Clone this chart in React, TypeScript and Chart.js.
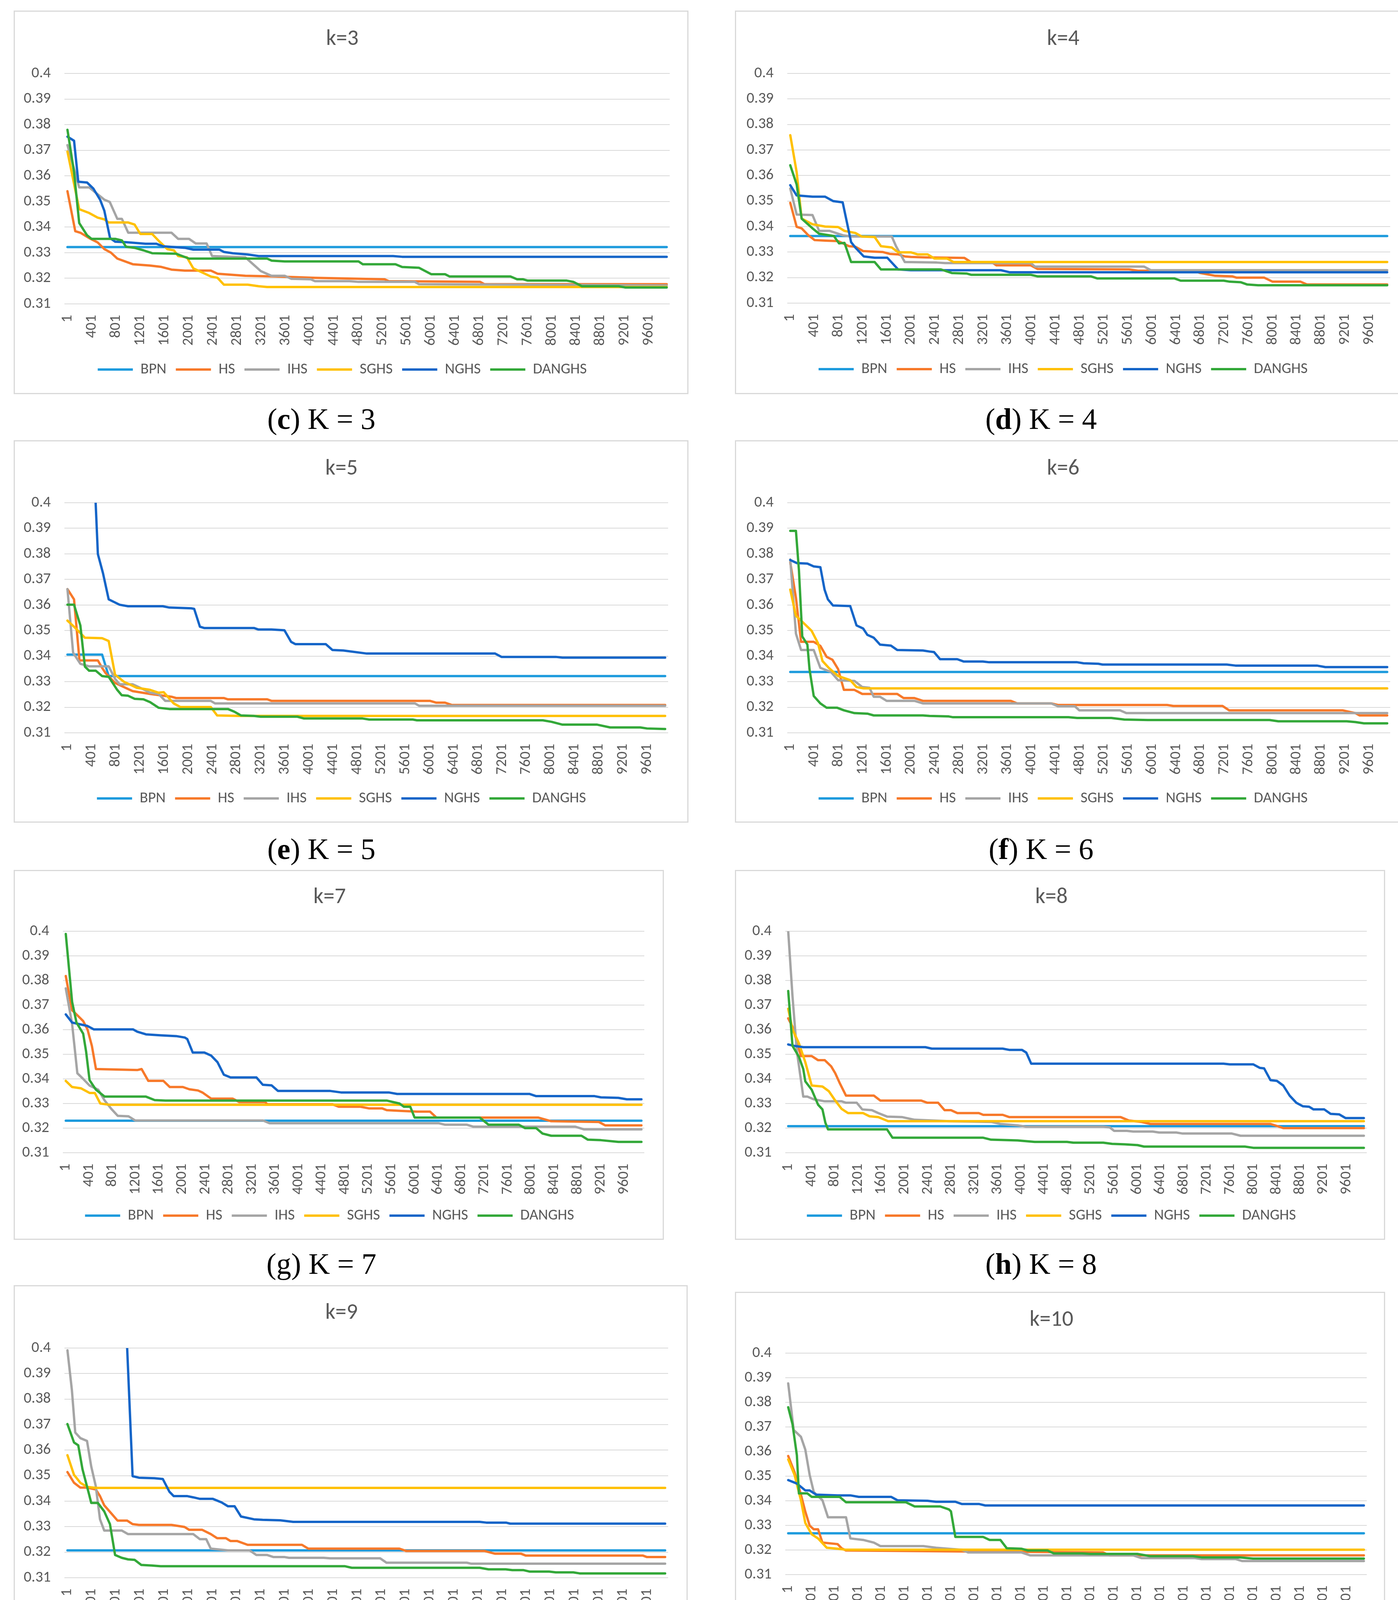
import React, { useEffect, useRef } from "react";
import { Chart, registerables, ChartConfiguration } from "chart.js";

Chart.register(...registerables);

type Pt = [number, number];

// shared series info
const seriesNames = ["BPN", "HS", "IHS", "SGHS", "NGHS", "DANGHS"];
const seriesColors = ["#1E9BDD", "#F7792A", "#A5A5A5", "#FFC000", "#1565C8", "#33A839"];

// iteration tick labels and error ticks
const xTickValues = [
  1, 401, 801, 1201, 1601, 2001, 2401, 2801, 3201, 3601, 4001, 4401, 4801,
  5201, 5601, 6001, 6401, 6801, 7201, 7601, 8001, 8401, 8801, 9201, 9601,
];
const yTickValues = [0.31, 0.32, 0.33, 0.34, 0.35, 0.36, 0.37, 0.38, 0.39, 0.4];

// ---------- k = 3 ----------
const k3_BPN: Pt[] = [[1, 0.3322], [9901, 0.3322]];
const k3_HS: Pt[] = [[1, 0.354], [130, 0.3384], [215, 0.3378], [360, 0.3357], [500, 0.334], [610, 0.3314], [720, 0.33], [825, 0.3277], [1080, 0.3255], [1360, 0.325], [1540, 0.3245], [1720, 0.3234], [1940, 0.323], [2370, 0.323], [2480, 0.3218], [2940, 0.321], [3440, 0.3207], [4090, 0.3202], [5240, 0.3196], [5310, 0.3189], [6820, 0.3186], [6890, 0.3177], [9901, 0.3177]];
const k3_IHS: Pt[] = [[1, 0.372], [195, 0.3555], [360, 0.3555], [500, 0.3528], [610, 0.3507], [700, 0.3498], [825, 0.3432], [900, 0.3432], [1005, 0.3378], [1720, 0.3378], [1830, 0.3354], [2010, 0.3354], [2120, 0.3336], [2300, 0.3336], [2390, 0.3287], [2940, 0.3282], [3195, 0.3228], [3370, 0.321], [3590, 0.321], [3700, 0.3198], [4020, 0.3196], [4090, 0.3189], [4660, 0.3189], [4810, 0.3186], [5740, 0.3186], [5810, 0.3177], [9901, 0.3172]];
const k3_SGHS: Pt[] = [[1, 0.3695], [195, 0.347], [360, 0.3455], [500, 0.3437], [610, 0.343], [680, 0.3418], [1005, 0.3418], [1110, 0.341], [1205, 0.3373], [1400, 0.3373], [1510, 0.3346], [1650, 0.3314], [1760, 0.3309], [1830, 0.3287], [1975, 0.3282], [2080, 0.3239], [2225, 0.3223], [2370, 0.3207], [2480, 0.3202], [2585, 0.3175], [2980, 0.3175], [3160, 0.3169], [3300, 0.3166], [9901, 0.3166]];
const k3_NGHS: Pt[] = [[1, 0.3753], [110, 0.3737], [180, 0.3577], [325, 0.3574], [430, 0.355], [540, 0.3507], [610, 0.3464], [705, 0.3357], [790, 0.3343], [970, 0.3341], [1290, 0.3335], [1470, 0.3335], [1580, 0.3325], [1940, 0.3319], [2080, 0.3312], [2510, 0.3312], [2585, 0.3303], [2730, 0.3298], [2980, 0.3293], [3160, 0.3287], [5380, 0.3287], [5530, 0.3284], [9901, 0.3284]];
const k3_DANGHS: Pt[] = [[1, 0.378], [110, 0.3614], [195, 0.3416], [325, 0.3368], [400, 0.3354], [790, 0.3354], [900, 0.3348], [970, 0.3323], [1110, 0.3319], [1260, 0.3309], [1400, 0.3298], [1795, 0.3296], [2010, 0.3277], [3300, 0.3277], [3375, 0.3269], [3590, 0.3266], [4810, 0.3266], [4880, 0.3255], [5420, 0.3255], [5530, 0.3244], [5810, 0.3241], [6010, 0.3216], [6240, 0.3216], [6315, 0.3207], [7320, 0.3207], [7430, 0.3196], [7530, 0.3196], [7605, 0.3191], [8250, 0.3191], [8360, 0.3186], [8500, 0.3169], [9110, 0.3169], [9220, 0.3164], [9901, 0.3164]];

// ---------- k = 4 ----------
const k4_BPN: Pt[] = [[1, 0.3363], [9901, 0.3363]];
const k4_HS: Pt[] = [[1, 0.3493], [107, 0.3399], [190, 0.3393], [300, 0.3366], [405, 0.3347], [580, 0.3345], [795, 0.3343], [975, 0.3323], [1080, 0.3321], [1208, 0.3304], [1365, 0.3302], [1540, 0.33], [1650, 0.3293], [1790, 0.3291], [1900, 0.3283], [2000, 0.3281], [2250, 0.3279], [2890, 0.3277], [2996, 0.3261], [3350, 0.3259], [3420, 0.3248], [3990, 0.3248], [4100, 0.3234], [5620, 0.3232], [5770, 0.3227], [6690, 0.3227], [6800, 0.3218], [7050, 0.3207], [7330, 0.3205], [7400, 0.32], [7860, 0.32], [8000, 0.3184], [8465, 0.3184], [8570, 0.3173], [9901, 0.3173]];
const k4_IHS: Pt[] = [[1, 0.3549], [107, 0.3447], [370, 0.3445], [480, 0.3383], [655, 0.3383], [870, 0.3366], [1010, 0.3361], [1685, 0.3361], [1755, 0.3323], [1900, 0.3261], [2430, 0.3259], [2570, 0.3257], [3990, 0.3257], [4060, 0.3243], [5870, 0.3243], [5980, 0.3229], [9901, 0.3229]];
const k4_SGHS: Pt[] = [[1, 0.3758], [107, 0.3613], [190, 0.3431], [370, 0.3409], [580, 0.34], [795, 0.3398], [900, 0.3383], [1080, 0.3375], [1185, 0.3361], [1400, 0.3359], [1505, 0.3323], [1685, 0.3318], [1790, 0.3299], [2000, 0.3299], [2110, 0.3291], [2280, 0.3291], [2390, 0.3275], [2600, 0.3275], [2710, 0.3261], [9901, 0.3261]];
const k4_NGHS: Pt[] = [[1, 0.3562], [107, 0.3522], [370, 0.3517], [580, 0.3517], [710, 0.35], [870, 0.3495], [1010, 0.3339], [1080, 0.3318], [1220, 0.3283], [1400, 0.3278], [1610, 0.3278], [1790, 0.3232], [2000, 0.3229], [3495, 0.3229], [3635, 0.3221], [9901, 0.3221]];
const k4_DANGHS: Pt[] = [[1, 0.364], [107, 0.3565], [190, 0.3431], [370, 0.3393], [480, 0.3372], [725, 0.3363], [810, 0.3334], [900, 0.3336], [1010, 0.3261], [1400, 0.3261], [1505, 0.3232], [2500, 0.3232], [2680, 0.3218], [2925, 0.3216], [3000, 0.3211], [3990, 0.3211], [4100, 0.3205], [4985, 0.3205], [5090, 0.3197], [6370, 0.3197], [6475, 0.3188], [7190, 0.3188], [7290, 0.3184], [7470, 0.3182], [7580, 0.3173], [7760, 0.317], [9901, 0.317]];

// ---------- k = 5 ----------
const k5_BPN: Pt[] = [[1, 0.3406], [575, 0.3406], [684, 0.3322], [9901, 0.3322]];
const k5_HS: Pt[] = [[1, 0.3662], [110, 0.3622], [200, 0.3383], [505, 0.3383], [575, 0.3354], [635, 0.3333], [790, 0.3295], [1080, 0.3263], [1370, 0.3252], [1725, 0.3241], [1800, 0.3236], [2590, 0.3236], [2660, 0.3231], [3310, 0.3231], [3380, 0.3225], [6005, 0.3225], [6110, 0.3218], [6255, 0.3218], [6365, 0.3209], [9901, 0.3209]];
const k5_IHS: Pt[] = [[1, 0.3662], [95, 0.3413], [215, 0.337], [360, 0.336], [684, 0.336], [790, 0.3311], [865, 0.329], [1080, 0.329], [1225, 0.3274], [1370, 0.3257], [1510, 0.3252], [1620, 0.3225], [2375, 0.3225], [2445, 0.3215], [5755, 0.3215], [5825, 0.3206], [9901, 0.3206]];
const k5_SGHS: Pt[] = [[1, 0.3539], [110, 0.3515], [290, 0.3472], [575, 0.347], [684, 0.3459], [790, 0.3327], [935, 0.33], [1150, 0.3276], [1370, 0.3268], [1510, 0.3257], [1595, 0.3259], [1760, 0.3215], [1870, 0.3201], [2375, 0.3201], [2480, 0.3168], [2840, 0.3166], [9901, 0.3166]];
const k5_NGHS: Pt[] = [[1, 0.45], [468, 0.4], [505, 0.3799], [590, 0.3724], [684, 0.3622], [865, 0.3601], [1005, 0.3595], [1580, 0.3595], [1690, 0.359], [2050, 0.3587], [2100, 0.3585], [2195, 0.3515], [2265, 0.351], [3090, 0.351], [3165, 0.3504], [3380, 0.3504], [3595, 0.3501], [3705, 0.3456], [3775, 0.3447], [4280, 0.3447], [4390, 0.3424], [4570, 0.3422], [4960, 0.341], [7085, 0.341], [7190, 0.3397], [8090, 0.3397], [8200, 0.3394], [9901, 0.3394]];
const k5_DANGHS: Pt[] = [[1, 0.3601], [110, 0.3601], [215, 0.352], [290, 0.3359], [360, 0.3343], [470, 0.3343], [575, 0.3322], [684, 0.3319], [825, 0.3268], [900, 0.3247], [1005, 0.3245], [1115, 0.3233], [1260, 0.3231], [1370, 0.322], [1510, 0.3198], [1690, 0.3193], [2660, 0.3193], [2770, 0.3182], [2875, 0.3168], [3090, 0.3166], [3200, 0.3163], [3810, 0.3163], [3920, 0.3156], [4890, 0.3156], [5000, 0.3152], [5720, 0.3152], [5790, 0.3149], [7875, 0.3149], [8020, 0.3143], [8200, 0.3132], [8775, 0.3132], [8990, 0.3121], [9490, 0.3121], [9600, 0.3117], [9901, 0.3115]];

// ---------- k = 6 ----------
const k6_BPN: Pt[] = [[1, 0.3338], [9901, 0.3338]];
const k6_HS: Pt[] = [[1, 0.3767], [95, 0.3628], [180, 0.3456], [390, 0.3456], [500, 0.344], [605, 0.3397], [700, 0.3386], [795, 0.3349], [890, 0.3268], [1065, 0.3268], [1195, 0.3252], [1775, 0.3252], [1880, 0.3236], [2060, 0.3236], [2200, 0.3225], [3660, 0.3225], [3765, 0.3215], [4330, 0.3215], [4440, 0.3209], [6250, 0.3209], [6355, 0.3205], [7170, 0.3205], [7280, 0.3188], [9160, 0.3188], [9375, 0.3177], [9445, 0.3168], [9901, 0.3168]];
const k6_IHS: Pt[] = [[1, 0.3778], [95, 0.3488], [180, 0.3424], [390, 0.3424], [500, 0.3354], [675, 0.3338], [795, 0.3306], [1065, 0.3303], [1195, 0.3279], [1315, 0.3276], [1385, 0.3241], [1490, 0.3241], [1600, 0.3225], [2060, 0.3225], [2200, 0.3215], [4330, 0.3215], [4440, 0.3204], [4720, 0.3204], [4795, 0.3188], [5470, 0.3188], [5575, 0.3177], [9901, 0.3177]];
const k6_SGHS: Pt[] = [[1, 0.366], [95, 0.3558], [215, 0.3531], [355, 0.3499], [460, 0.3451], [535, 0.3381], [640, 0.3354], [795, 0.3322], [995, 0.3306], [1100, 0.3279], [1210, 0.3274], [9901, 0.3274]];
const k6_NGHS: Pt[] = [[1, 0.3776], [110, 0.3764], [285, 0.3762], [390, 0.3751], [500, 0.3748], [570, 0.366], [625, 0.3622], [710, 0.3598], [995, 0.3596], [1100, 0.352], [1210, 0.3508], [1280, 0.3483], [1385, 0.3472], [1490, 0.3445], [1670, 0.3441], [1775, 0.3424], [2200, 0.3422], [2310, 0.3418], [2385, 0.3416], [2485, 0.3388], [2770, 0.3388], [2875, 0.3379], [3195, 0.3379], [3300, 0.3376], [4760, 0.3376], [4865, 0.3372], [5110, 0.337], [5180, 0.3367], [7240, 0.3367], [7385, 0.3363], [8735, 0.3363], [8875, 0.3357], [9901, 0.3357]];
const k6_DANGHS: Pt[] = [[1, 0.389], [95, 0.389], [145, 0.3735], [200, 0.3477], [285, 0.3445], [320, 0.3349], [390, 0.3244], [500, 0.3215], [605, 0.3198], [780, 0.3198], [890, 0.3188], [1065, 0.3177], [1280, 0.3175], [1385, 0.3168], [2200, 0.3168], [2310, 0.3166], [2630, 0.3164], [2700, 0.3161], [4615, 0.3161], [4760, 0.3158], [5325, 0.3158], [5540, 0.3152], [5930, 0.315], [7950, 0.315], [8095, 0.3145], [9230, 0.3145], [9375, 0.3142], [9515, 0.3137], [9901, 0.3137]];

// ---------- k = 7 ----------
const k7_BPN: Pt[] = [[1, 0.323], [9901, 0.323]];
const k7_HS: Pt[] = [[1, 0.3818], [110, 0.3679], [185, 0.3662], [300, 0.3635], [375, 0.3601], [450, 0.3534], [520, 0.344], [1230, 0.3436], [1305, 0.344], [1420, 0.3392], [1680, 0.3392], [1790, 0.3367], [2015, 0.3367], [2125, 0.3358], [2275, 0.3353], [2350, 0.3345], [2500, 0.332], [2870, 0.332], [2985, 0.3306], [3430, 0.3306], [3465, 0.3297], [4585, 0.3297], [4695, 0.3287], [5070, 0.3287], [5220, 0.328], [5445, 0.328], [5520, 0.3273], [5780, 0.327], [6040, 0.3267], [6265, 0.3267], [6375, 0.3243], [8125, 0.3243], [8350, 0.3228], [9170, 0.3225], [9280, 0.3211], [9901, 0.3211]];
const k7_IHS: Pt[] = [[1, 0.3768], [110, 0.3623], [200, 0.3423], [300, 0.34], [410, 0.3373], [560, 0.3356], [670, 0.3312], [785, 0.3278], [895, 0.325], [1080, 0.3248], [1195, 0.3231], [3395, 0.3231], [3505, 0.322], [6410, 0.322], [6520, 0.3214], [6895, 0.3214], [7005, 0.3206], [8760, 0.3206], [8910, 0.3195], [9901, 0.3195]];
const k7_SGHS: Pt[] = [[1, 0.3392], [110, 0.3367], [260, 0.3362], [410, 0.3343], [500, 0.3343], [595, 0.33], [745, 0.3295], [9901, 0.3295]];
const k7_NGHS: Pt[] = [[1, 0.3662], [110, 0.3629], [225, 0.3623], [375, 0.3615], [485, 0.3601], [1160, 0.3601], [1230, 0.3592], [1380, 0.3581], [1640, 0.3577], [1900, 0.3574], [2050, 0.3568], [2090, 0.3562], [2185, 0.3507], [2385, 0.3507], [2500, 0.3495], [2610, 0.3468], [2720, 0.3417], [2835, 0.3406], [3280, 0.3406], [3390, 0.3376], [3540, 0.3374], [3650, 0.3351], [4550, 0.3351], [4735, 0.3345], [5555, 0.3345], [5700, 0.3339], [7975, 0.3339], [8090, 0.333], [9095, 0.333], [9205, 0.3325], [9505, 0.3323], [9650, 0.3317], [9901, 0.3317]];
const k7_DANGHS: Pt[] = [[1, 0.3989], [110, 0.3713], [185, 0.3629], [300, 0.3584], [350, 0.3512], [410, 0.3395], [520, 0.3356], [670, 0.3328], [1380, 0.3328], [1530, 0.3314], [1715, 0.3312], [5520, 0.3312], [5630, 0.3306], [5740, 0.33], [5815, 0.3287], [5925, 0.3287], [6000, 0.3243], [7120, 0.3243], [7270, 0.3214], [7790, 0.3214], [7900, 0.32], [8090, 0.32], [8200, 0.3178], [8350, 0.3169], [8870, 0.3169], [8980, 0.3153], [9205, 0.3151], [9505, 0.3144], [9901, 0.3144]];

// ---------- k = 8 ----------
const k8_BPN: Pt[] = [[1, 0.3208], [9901, 0.3208]];
const k8_HS: Pt[] = [[1, 0.3646], [75, 0.3612], [220, 0.3493], [405, 0.3493], [515, 0.3476], [630, 0.3476], [740, 0.3451], [810, 0.3423], [885, 0.3384], [995, 0.3332], [1475, 0.3332], [1585, 0.3312], [2285, 0.3312], [2395, 0.3303], [2580, 0.3303], [2690, 0.3273], [2800, 0.3273], [2910, 0.3261], [3280, 0.3261], [3355, 0.3254], [3690, 0.3254], [3800, 0.3245], [5715, 0.3245], [5860, 0.3231], [6080, 0.3225], [6230, 0.3217], [8295, 0.3217], [8440, 0.3206], [8515, 0.32], [9901, 0.32]];
const k8_IHS: Pt[] = [[1, 0.4], [75, 0.3735], [150, 0.3512], [260, 0.3328], [330, 0.3328], [440, 0.3317], [630, 0.3309], [920, 0.3309], [995, 0.3303], [1180, 0.3303], [1275, 0.3276], [1440, 0.3273], [1550, 0.3261], [1700, 0.3247], [1955, 0.3245], [2175, 0.3234], [2765, 0.3228], [3500, 0.3225], [3650, 0.3217], [3945, 0.3211], [4090, 0.3206], [5420, 0.3206], [5530, 0.3203], [5605, 0.3189], [5825, 0.3189], [5935, 0.3186], [6270, 0.3186], [6380, 0.3182], [6675, 0.3182], [6785, 0.3178], [7630, 0.3178], [7780, 0.3169], [9901, 0.3169]];
const k8_SGHS: Pt[] = [[1, 0.3685], [75, 0.3601], [185, 0.3545], [295, 0.3468], [405, 0.3373], [590, 0.3369], [700, 0.335], [810, 0.3312], [920, 0.3278], [1030, 0.3261], [1290, 0.3261], [1400, 0.3248], [1550, 0.3245], [1720, 0.3228], [9901, 0.3228]];
const k8_NGHS: Pt[] = [[1, 0.354], [110, 0.3534], [260, 0.3529], [2360, 0.3529], [2470, 0.3523], [3690, 0.3523], [3800, 0.3518], [4020, 0.3518], [4095, 0.3507], [4180, 0.3462], [7485, 0.3462], [7595, 0.3459], [8000, 0.3459], [8110, 0.3445], [8185, 0.3443], [8295, 0.3395], [8405, 0.3392], [8515, 0.3373], [8625, 0.3332], [8740, 0.3303], [8850, 0.3289], [8960, 0.3287], [9035, 0.3276], [9220, 0.3276], [9330, 0.3258], [9475, 0.3256], [9585, 0.3241], [9901, 0.3241]];
const k8_DANGHS: Pt[] = [[1, 0.3757], [75, 0.3534], [185, 0.349], [260, 0.344], [295, 0.339], [405, 0.3356], [515, 0.3295], [590, 0.3276], [640, 0.3222], [685, 0.3195], [1700, 0.3195], [1795, 0.3161], [3355, 0.3161], [3490, 0.3153], [3945, 0.315], [4240, 0.3144], [4795, 0.3144], [4905, 0.3141], [5420, 0.3141], [5570, 0.3136], [5790, 0.3134], [6010, 0.3131], [6120, 0.3125], [7855, 0.3125], [8000, 0.312], [9901, 0.312]];

// ---------- k = 9 ----------
const k9_BPN: Pt[] = [[1, 0.3207], [9901, 0.3207]];
const k9_HS: Pt[] = [[1, 0.3514], [110, 0.3472], [215, 0.3453], [325, 0.3453], [470, 0.3446], [540, 0.342], [610, 0.3384], [720, 0.3354], [830, 0.3324], [990, 0.3324], [1080, 0.331], [1185, 0.3307], [1725, 0.3307], [1940, 0.3299], [2015, 0.3288], [2230, 0.3288], [2375, 0.3271], [2480, 0.3255], [2625, 0.3255], [2700, 0.3244], [2810, 0.3244], [2985, 0.3229], [3885, 0.3229], [3990, 0.3214], [5500, 0.3214], [5610, 0.3205], [6905, 0.3205], [7085, 0.3194], [7515, 0.3194], [7590, 0.3187], [9530, 0.3187], [9600, 0.3181], [9901, 0.3181]];
const k9_IHS: Pt[] = [[1, 0.3991], [75, 0.3834], [130, 0.3669], [215, 0.3647], [325, 0.3636], [395, 0.3536], [470, 0.3459], [540, 0.3329], [610, 0.3285], [900, 0.3285], [1005, 0.3271], [2085, 0.3271], [2195, 0.3251], [2300, 0.3251], [2375, 0.3214], [2660, 0.3207], [3020, 0.3207], [3130, 0.3189], [3310, 0.3189], [3415, 0.3181], [3600, 0.3181], [3670, 0.3178], [4245, 0.3178], [4350, 0.3176], [5180, 0.3176], [5285, 0.3159], [6615, 0.3159], [6690, 0.3155], [9901, 0.3155]];
const k9_SGHS: Pt[] = [[1, 0.358], [110, 0.3503], [215, 0.3472], [325, 0.3456], [470, 0.3452], [9901, 0.3452]];
const k9_NGHS: Pt[] = [[1, 0.45], [990, 0.4], [1080, 0.3498], [1185, 0.3492], [1440, 0.349], [1580, 0.3487], [1690, 0.3437], [1760, 0.342], [1980, 0.342], [2085, 0.3415], [2195, 0.3409], [2410, 0.3409], [2555, 0.3395], [2660, 0.338], [2770, 0.338], [2875, 0.334], [3090, 0.3329], [3235, 0.3327], [3525, 0.3325], [3740, 0.3319], [6830, 0.3319], [6940, 0.3316], [7265, 0.3316], [7335, 0.3312], [9901, 0.3312]];
const k9_DANGHS: Pt[] = [[1, 0.3702], [110, 0.363], [180, 0.3619], [250, 0.3525], [360, 0.3426], [395, 0.3393], [505, 0.3393], [610, 0.336], [705, 0.331], [790, 0.3189], [900, 0.3178], [1005, 0.3172], [1115, 0.317], [1225, 0.315], [1400, 0.3148], [1545, 0.3145], [4600, 0.3145], [4710, 0.3139], [6830, 0.3139], [6975, 0.3133], [7260, 0.3133], [7370, 0.313], [7550, 0.313], [7660, 0.3124], [7980, 0.3124], [8090, 0.3121], [8380, 0.3121], [8485, 0.3117], [9901, 0.3117]];

// ---------- k = 10 ----------
const k10_BPN: Pt[] = [[1, 0.3268], [9901, 0.3268]];
const k10_HS: Pt[] = [[1, 0.3582], [110, 0.3516], [220, 0.3425], [295, 0.3356], [370, 0.3299], [440, 0.3284], [515, 0.3284], [590, 0.323], [850, 0.3224], [920, 0.3207], [995, 0.3198], [2025, 0.3196], [2985, 0.3194], [5415, 0.319], [5530, 0.3178], [9901, 0.3178]];
const k10_IHS: Pt[] = [[1, 0.3877], [95, 0.3688], [220, 0.366], [295, 0.3608], [370, 0.3505], [440, 0.3436], [590, 0.3402], [685, 0.3333], [995, 0.3333], [1070, 0.3247], [1290, 0.3241], [1475, 0.323], [1585, 0.3216], [2325, 0.3216], [2545, 0.3209], [2985, 0.3201], [3095, 0.319], [4015, 0.319], [4165, 0.3178], [5935, 0.3178], [6080, 0.3167], [7000, 0.3167], [7110, 0.3163], [7700, 0.3163], [7810, 0.3155], [9901, 0.3155]];
const k10_SGHS: Pt[] = [[1, 0.3568], [110, 0.3505], [220, 0.3402], [295, 0.331], [405, 0.3264], [515, 0.3247], [665, 0.3209], [850, 0.3205], [995, 0.3201], [9901, 0.3201]];
const k10_NGHS: Pt[] = [[1, 0.3484], [150, 0.347], [295, 0.3442], [370, 0.3442], [480, 0.3425], [850, 0.3422], [1070, 0.3422], [1215, 0.3416], [1770, 0.3416], [1880, 0.3402], [2395, 0.34], [2545, 0.3396], [2875, 0.3396], [2985, 0.3387], [3280, 0.3387], [3390, 0.3381], [9901, 0.3381]];
const k10_DANGHS: Pt[] = [[1, 0.378], [75, 0.3711], [150, 0.3585], [185, 0.343], [330, 0.343], [405, 0.3416], [885, 0.3416], [995, 0.3394], [2025, 0.3394], [2175, 0.3377], [2615, 0.3377], [2765, 0.3365], [2800, 0.3357], [2875, 0.3253], [3355, 0.3253], [3465, 0.3241], [3650, 0.3241], [3760, 0.3207], [4015, 0.3205], [4125, 0.3198], [4460, 0.3198], [4570, 0.3186], [5050, 0.3186], [5195, 0.3184], [6005, 0.3184], [6225, 0.3175], [6960, 0.3175], [7110, 0.317], [7775, 0.317], [7995, 0.3165], [9901, 0.3165]];

const seriesByK: Record<number, Pt[][]> = {
  3: [k3_BPN, k3_HS, k3_IHS, k3_SGHS, k3_NGHS, k3_DANGHS],
  4: [k4_BPN, k4_HS, k4_IHS, k4_SGHS, k4_NGHS, k4_DANGHS],
  5: [k5_BPN, k5_HS, k5_IHS, k5_SGHS, k5_NGHS, k5_DANGHS],
  6: [k6_BPN, k6_HS, k6_IHS, k6_SGHS, k6_NGHS, k6_DANGHS],
  7: [k7_BPN, k7_HS, k7_IHS, k7_SGHS, k7_NGHS, k7_DANGHS],
  8: [k8_BPN, k8_HS, k8_IHS, k8_SGHS, k8_NGHS, k8_DANGHS],
  9: [k9_BPN, k9_HS, k9_IHS, k9_SGHS, k9_NGHS, k9_DANGHS],
  10: [k10_BPN, k10_HS, k10_IHS, k10_SGHS, k10_NGHS, k10_DANGHS],
};

// page layout (pixels)
type Panel = {
  id: string; k: number; bold: boolean;
  left: number; top: number; width: number; height: number;
  plot: [number, number, number, number]; // left, right, top, bottom
  titleY: number; legendY: number; capX: number; capY: number;
};

const panels: Panel[] = [
  { id: "c", k: 3, bold: true, left: 35, top: 27, width: 1728, height: 982, plot: [165, 1715, 188, 778], titleY: 101, legendY: 946, capX: 823, capY: 1072 },
  { id: "d", k: 4, bold: true, left: 1882, top: 27, width: 1728, height: 982, plot: [2016, 3560, 188, 776], titleY: 101, legendY: 945, capX: 2666, capY: 1072 },
  { id: "e", k: 5, bold: true, left: 35, top: 1127, width: 1728, height: 979, plot: [165, 1711, 1287, 1876], titleY: 1201, legendY: 2044, capX: 823, capY: 2173 },
  { id: "f", k: 6, bold: true, left: 1882, top: 1127, width: 1728, height: 979, plot: [2016, 3560, 1287, 1876], titleY: 1201, legendY: 2044, capX: 2666, capY: 2173 },
  { id: "g", k: 7, bold: false, left: 35, top: 2227, width: 1665, height: 947, plot: [161, 1650, 2384, 2951], titleY: 2298, legendY: 3112, capX: 823, capY: 3235 },
  { id: "h", k: 8, bold: true, left: 1882, top: 2227, width: 1665, height: 947, plot: [2011, 3500, 2384, 2951], titleY: 2298, legendY: 3112, capX: 2666, capY: 3235 },
  { id: "i", k: 9, bold: true, left: 35, top: 3290, width: 1726, height: 983, plot: [165, 1711, 3451, 4039], titleY: 3362, legendY: 4208, capX: 823, capY: 4334 },
  { id: "j", k: 10, bold: false, left: 1882, top: 3307, width: 1665, height: 947, plot: [2011, 3500, 3464, 4031], titleY: 3380, legendY: 4193, capX: 2666, capY: 4336 },
];

const FONT = "Carlito, Calibri, 'Liberation Sans', Arial, sans-serif";
const TEXT = "#595959";
const BORDER = 3;
const TITLE_SIZE = 57;
const TICK_SIZE = 39;
const LEGEND_SIZE = 39;
const LEGEND_PAD = 24;

const ChartPanel: React.FC<{ p: Panel }> = ({ p }) => {
  const chartRef = useRef<HTMLCanvasElement>(null);
  const cw = p.width - 2 * BORDER;
  const ch = p.height - 2 * BORDER;

  useEffect(() => {
    if (!chartRef.current) return;
    const ox = p.left + BORDER;
    const oy = p.top + BORDER;
    const axisW = p.plot[0] - ox;
    const padR = ox + cw - p.plot[1];
    const areaTop = p.plot[2] - oy;
    const areaBottom = p.plot[3] - oy;
    const tY = p.titleY - oy;
    const lY = p.legendY - oy;
    const halfTitle = (TITLE_SIZE * 1.2) / 2;
    // legend block: height = font + pad + 10, item centre = top + pad + font/2
    const legendTop = lY - LEGEND_PAD - LEGEND_SIZE / 2;
    const padB = ch - (lY + LEGEND_SIZE / 2 + 10);
    const xAxisH = legendTop - areaBottom;

    const series = seriesByK[p.k];
    const config: ChartConfiguration<"line"> = {
      type: "line",
      data: {
        datasets: series.map((pts, i) => ({
          label: seriesNames[i],
          data: pts.map(([x, y]) => ({ x, y })),
          borderColor: seriesColors[i],
          backgroundColor: seriesColors[i],
          borderWidth: 6,
          pointRadius: 0,
          tension: 0,
          borderJoinStyle: "round",
          borderCapStyle: "round",
          order: series.length - 1 - i,
        })),
      },
      options: {
        animation: false,
        responsive: false,
        maintainAspectRatio: false,
        devicePixelRatio: 1,
        layout: { padding: { left: 0, right: padR, top: 0, bottom: padB } },
        plugins: {
          title: {
            display: true,
            text: `k=${p.k}`,
            color: TEXT,
            font: { family: FONT, size: TITLE_SIZE, weight: "normal", lineHeight: 1.2 },
            padding: { top: tY - halfTitle, bottom: areaTop - tY - halfTitle },
          },
          legend: {
            position: "bottom",
            labels: {
              color: TEXT,
              font: { family: FONT, size: LEGEND_SIZE },
              boxWidth: 90,
              boxHeight: 6,
              padding: LEGEND_PAD,
              sort: (a, b) => (a.datasetIndex ?? 0) - (b.datasetIndex ?? 0),
              generateLabels: (chart) =>
                Chart.defaults.plugins.legend.labels
                  .generateLabels(chart)
                  .map((l) => ({ ...l, lineWidth: 0 })),
            },
          },
          tooltip: { enabled: false },
        },
        scales: {
          x: {
            type: "linear",
            min: -49,
            max: 9951,
            afterBuildTicks: (axis) => {
              axis.ticks = xTickValues.map((v) => ({ value: v }));
            },
            afterFit: (axis) => {
              axis.height = xAxisH;
            },
            ticks: {
              color: TEXT,
              font: { family: FONT, size: TICK_SIZE },
              minRotation: 90,
              maxRotation: 90,
              autoSkip: false,
              padding: 28,
              callback: (v) => String(v),
            },
            grid: { display: false, drawTicks: false },
            border: { display: false },
          },
          y: {
            type: "linear",
            min: 0.31,
            max: 0.4,
            afterBuildTicks: (axis) => {
              axis.ticks = yTickValues.map((v) => ({ value: v }));
            },
            afterFit: (axis) => {
              axis.width = axisW;
            },
            ticks: {
              color: TEXT,
              font: { family: FONT, size: TICK_SIZE },
              padding: 35,
              callback: (v) => String(Math.round(Number(v) * 100) / 100),
            },
            grid: { color: "#d9d9d9", lineWidth: 2, drawTicks: false },
            border: { display: false },
          },
        },
      },
    };

    const chart = new Chart(chartRef.current, config);
    return () => {
      chart.destroy();
    };
  }, [p]);

  return (
    <>
      <div
        style={{
          position: "absolute",
          left: p.left,
          top: p.top,
          width: p.width,
          height: p.height,
          border: `${BORDER}px solid #d9d9d9`,
          boxSizing: "border-box",
          background: "#fff",
        }}
      >
        <canvas ref={chartRef} width={cw} height={ch} style={{ display: "block", width: cw, height: ch }} />
      </div>
      <div
        style={{
          position: "absolute",
          left: p.capX,
          top: p.capY,
          transform: "translate(-50%, -50%)",
          fontFamily: "'Liberation Serif', 'Times New Roman', serif",
          fontSize: 76,
          lineHeight: 1,
          whiteSpace: "nowrap",
          color: "#000",
        }}
      >
        (<span style={{ fontWeight: p.bold ? "bold" : "normal" }}>{p.id}</span>) K = {p.k}
      </div>
    </>
  );
};

const App: React.FC = () => (
  <div
    style={{
      position: "absolute",
      left: 0,
      top: 0,
      width: 3580,
      height: 4403,
      overflow: "hidden",
      background: "#fff",
    }}
  >
    {panels.map((p) => (
      <ChartPanel key={p.id} p={p} />
    ))}
  </div>
);

export default App;
